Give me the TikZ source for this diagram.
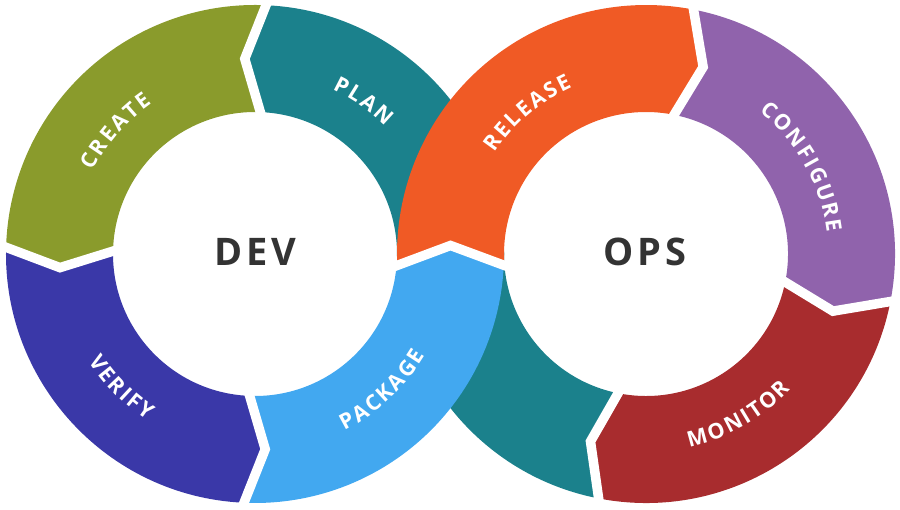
\documentclass[tikz,border=0pt]{standalone}
\usepackage{fontspec}
\usepackage{tikz}
\usetikzlibrary{calc,decorations.text}

\newfontfamily\lblfont{Open Sans}
\definecolor{plancol}{HTML}{1B818C}
\definecolor{createcol}{HTML}{8A9B2C}
\definecolor{verifycol}{HTML}{3A38A8}
\definecolor{packcol}{HTML}{42A8F0}
\definecolor{relcol}{HTML}{F05A25}
\definecolor{confcol}{HTML}{9063AC}
\definecolor{moncol}{HTML}{A82C2E}
\definecolor{corecol}{HTML}{333333}

\newcommand{\lblfmt}{\lblfont\bfseries\fontsize{21.5}{21.5}\selectfont\color{white}\kern2.2pt}

\begin{document}
\begin{tikzpicture}[x=1pt, y=1pt,
    gap/.style={draw=white, line width=9.5pt, line join=miter},
    core/.style={text=corecol, font=\lblfont\bfseries\fontsize{38}{38}\selectfont\addfontfeature{LetterSpace=10}},
    word/.style={decorate, decoration={text along path, text align=center, text={|\lblfmt|#1}}}]
    \useasboundingbox (0,0) rectangle (900,510);
    \def\outR{249}
    \def\inR{142}
    \def\midR{195.5}
    \def\gapoR{255}
    \def\gapiR{136}

    % Ring centres and the crossing
    \coordinate (dev) at (255,256);
    \coordinate (ops) at (646,256);
    \coordinate (chl) at (397,244.5);
    \coordinate (chr) at (504.5,244.5);
    \coordinate (cht) at (450.5,264.5);

    % Plan band, under the crossing
    \fill[plancol] ($(dev)+(-1:\inR)$) -- ($(dev)+(-1:\outR)$) arc[start angle=-1, end angle=87, radius=\outR]
        -- ($(dev)+(93:\midR)$) -- ($(dev)+(87:\inR)$) arc[start angle=87, end angle=-1, radius=\inR] -- cycle;
    \fill[plancol] ($(ops)+(179:\outR)$) arc[start angle=179, end angle=259.5, radius=\outR]
        -- ($(ops)+(253.5:\midR)$) -- ($(ops)+(259.5:\inR)$) arc[start angle=259.5, end angle=179, radius=\inR] -- cycle;

    % Dev side
    \fill[createcol] ($(dev)+(87:\outR)$) arc[start angle=87, end angle=178, radius=\outR]
        -- ($(dev)+(184:\midR)$) -- ($(dev)+(178:\inR)$) arc[start angle=178, end angle=87, radius=\inR]
        -- ($(dev)+(93:\midR)$) -- cycle;
    \fill[verifycol] ($(dev)+(178:\outR)$) arc[start angle=178, end angle=267, radius=\outR]
        -- ($(dev)+(273:\midR)$) -- ($(dev)+(267:\inR)$) arc[start angle=267, end angle=178, radius=\inR]
        -- ($(dev)+(184:\midR)$) -- cycle;

    % Ops side
    \fill[confcol] ($(ops)+(79.5:\outR)$) arc[start angle=79.5, end angle=-10.5, radius=\outR]
        -- ($(ops)+(-17:\midR)$) -- ($(ops)+(-10.5:\inR)$) arc[start angle=-10.5, end angle=79.5, radius=\inR]
        -- ($(ops)+(73:\midR)$) -- cycle;
    \fill[moncol] ($(ops)+(-10.5:\outR)$) arc[start angle=-10.5, end angle=-100.5, radius=\outR]
        -- ($(ops)+(-106.5:\midR)$) -- ($(ops)+(-100.5:\inR)$) arc[start angle=-100.5, end angle=-10.5, radius=\inR]
        -- ($(ops)+(-17:\midR)$) -- cycle;

    % Package and release, over the crossing
    \fill[packcol] ($(dev)+(267:\outR)$) arc[start angle=267, end angle=357.36, radius=\outR]
        -- (cht) -- ($(dev)+(-4.63:\inR)$) arc[start angle=-4.63, end angle=-93, radius=\inR]
        -- ($(dev)+(273:\midR)$) -- cycle;
    \fill[relcol] ($(ops)+(182.64:\outR)$) arc[start angle=182.64, end angle=79.5, radius=\outR]
        -- ($(ops)+(73:\midR)$) -- ($(ops)+(79.5:\inR)$) arc[start angle=79.5, end angle=184.65, radius=\inR]
        -- (cht) -- cycle;

    % White gaps
    \draw[gap] ($(dev)+(87:\gapoR)$) -- ($(dev)+(93:\midR)$) -- ($(dev)+(87:\gapiR)$);
    \draw[gap] ($(dev)+(178:\gapoR)$) -- ($(dev)+(184:\midR)$) -- ($(dev)+(178:\gapiR)$);
    \draw[gap] ($(dev)+(267:\gapoR)$) -- ($(dev)+(273:\midR)$) -- ($(dev)+(267:\gapiR)$);
    \draw[gap] ($(ops)+(79.5:\gapoR)$) -- ($(ops)+(73:\midR)$) -- ($(ops)+(79.5:\gapiR)$);
    \draw[gap] ($(ops)+(-10.5:\gapoR)$) -- ($(ops)+(-17:\midR)$) -- ($(ops)+(-10.5:\gapiR)$);
    \draw[gap] ($(ops)+(-100.5:\gapoR)$) -- ($(ops)+(-106.5:\midR)$) -- ($(ops)+(-100.5:\gapiR)$);
    \draw[gap] ($(cht)!1.12!(chl)$) -- (cht) -- ($(cht)!1.12!(chr)$);

    % Labels along the bands
    \path[word=CREATE] ($(dev)+(179:182)$) arc[start angle=179, end angle=99, radius=182];
    \path[word=PLAN] ($(dev)+(95:182)$) arc[start angle=95, end angle=15, radius=182];
    \path[word=VERIFY] ($(dev)+(184.6:198)$) arc[start angle=184.6, end angle=264.6, radius=198];
    \path[word=PACKAGE] ($(dev)+(-87.3:198)$) arc[start angle=-87.3, end angle=-7.3, radius=198];
    \path[word=RELEASE] ($(ops)+(170.4:182)$) arc[start angle=170.4, end angle=90.4, radius=182];
    \path[word=CONFIGURE] ($(ops)+(69.5:182)$) arc[start angle=69.5, end angle=-10.5, radius=182];
    \path[word=MONITOR] ($(ops)+(-100.5:198)$) arc[start angle=-100.5, end angle=-20.5, radius=198];

    % Centre words
    \node[core] (devtxt) at (255,258.5) {DEV};
    \node[core] (opstxt) at (645,258.5) {OPS};
\end{tikzpicture}
\end{document}
